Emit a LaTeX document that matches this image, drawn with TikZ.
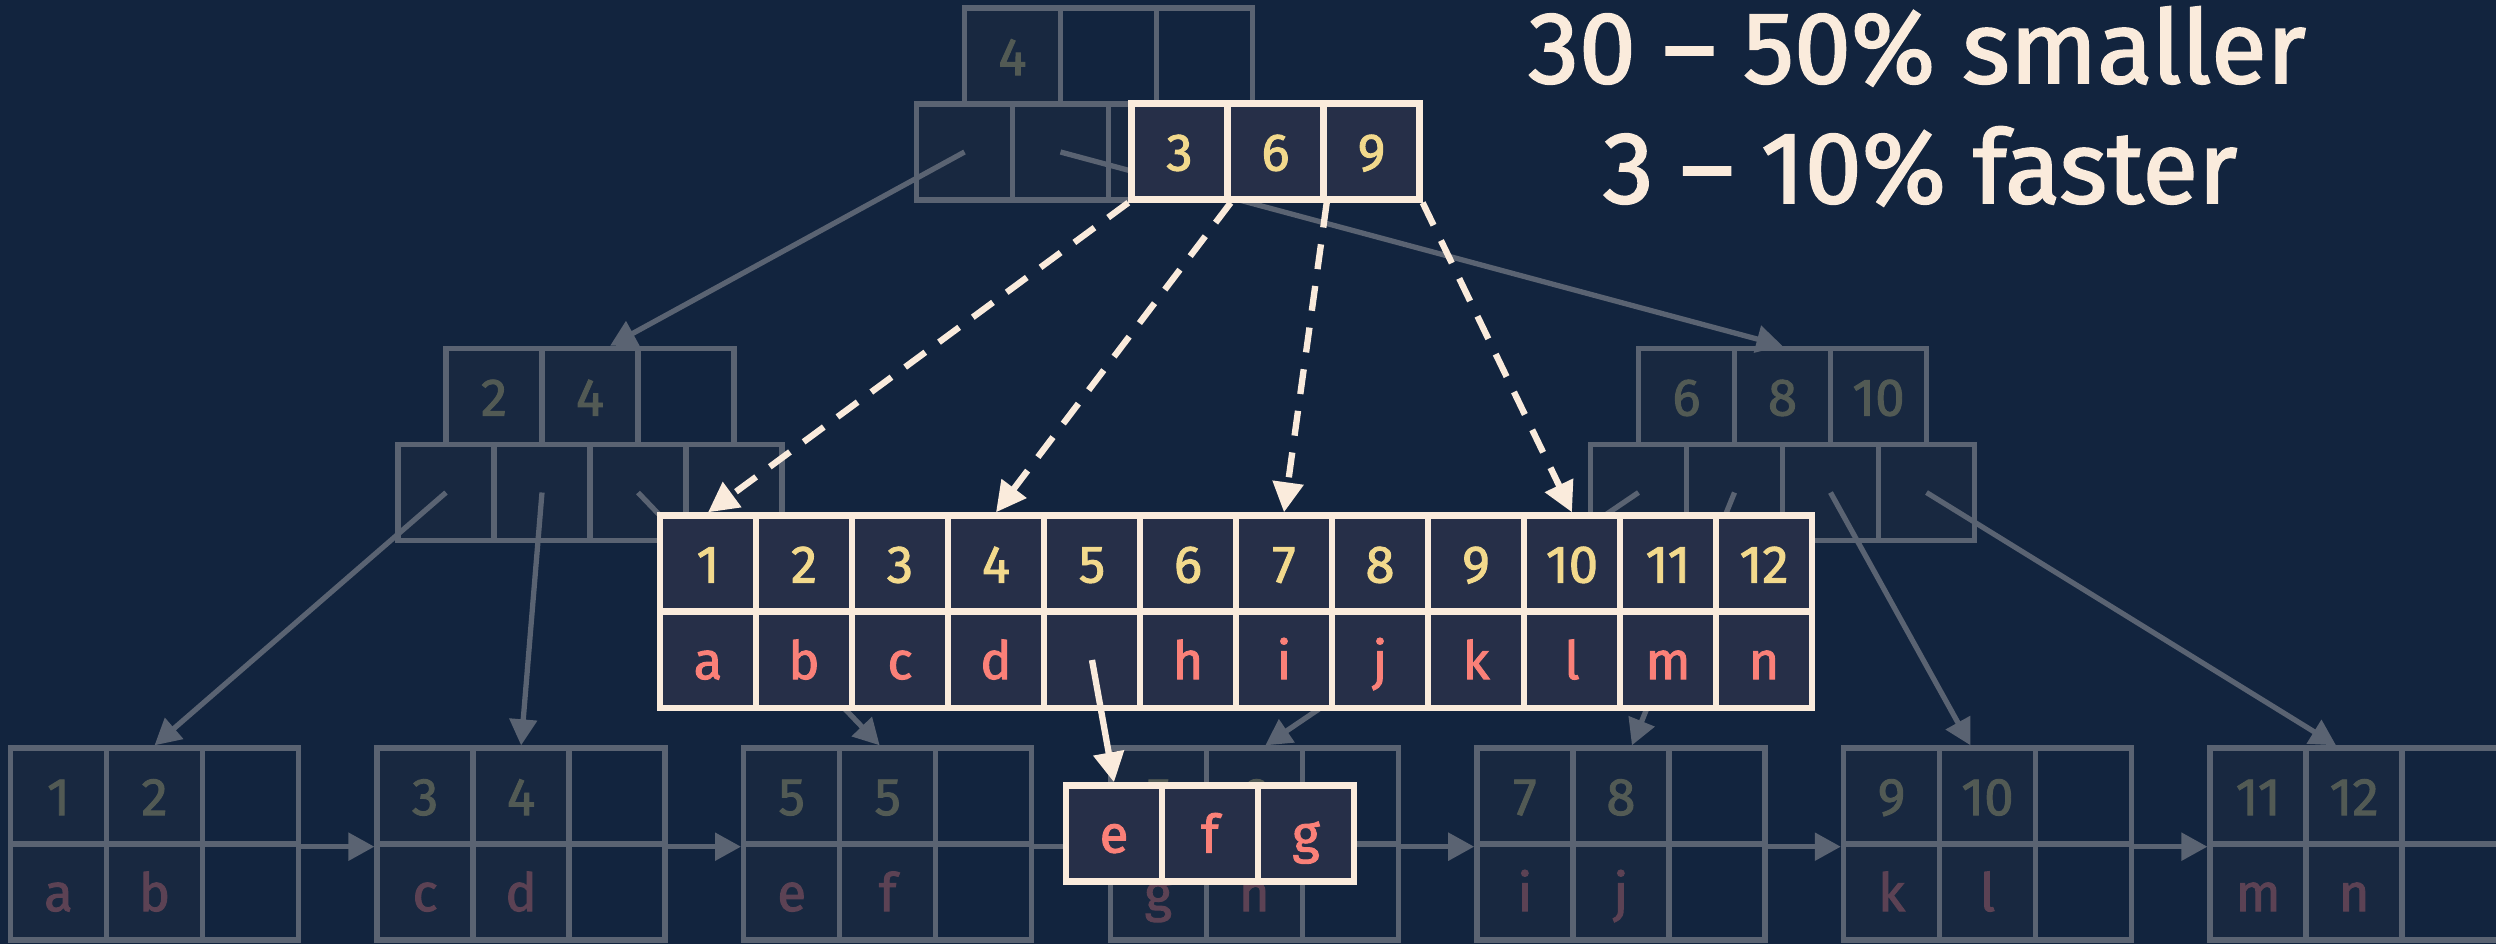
\documentclass[tikz,border=0pt]{standalone}
\usepackage{fontspec}
\setmainfont{Fira Sans}[FakeBold=1.8]
\usetikzlibrary{arrows.meta}
\definecolor{bg}{RGB}{18,36,62}
\definecolor{ffill}{RGB}{24,40,64}
\definecolor{fline}{RGB}{90,99,114}
\definecolor{fdig}{RGB}{82,90,84}
\definecolor{flet}{RGB}{92,66,84}
\definecolor{cream}{RGB}{250,235,220}
\definecolor{hfill}{RGB}{38,47,72}
\definecolor{hyel}{RGB}{242,217,140}
\definecolor{hpink}{RGB}{250,128,120}
\begin{document}
\begin{tikzpicture}[x=0.01cm,y=-0.01cm,
  cell/.style={draw=fline,fill=bg,line width=1.5pt,minimum width=0.96cm,minimum height=0.96cm,
    inner sep=0pt,text height=0.38cm,text depth=0pt,font=\fontsize{15}{18}\selectfont},
  full/.style={cell,fill=ffill},
  hcell/.style={cell,draw=cream,fill=hfill,line width=1.8pt},
  farrow/.style={draw=fline,line width=1.5pt,-{Triangle[length=0.26cm,width=0.27cm]}},
  harrow/.style={draw=cream,line width=1.8pt,-{Triangle[length=0.3cm,width=0.3cm]}},
  hdash/.style={harrow,dash pattern=on 0.25cm off 0.17cm}]
  \useasboundingbox[fill=bg] (0,0) rectangle (2496,944);

  % faded tree: root
  \foreach \i in {1,...,4} \node[full] (rb\i) at (868.5+96*\i,152) {};
  \node[full,text=fdig] (rt1) at (1012.5,56) {4};
  \node[cell] (rt2) at (1108.5,56) {};
  \node[cell] (rt3) at (1204.5,56) {};

  % faded tree: second level
  \foreach \i in {1,...,4} \node[full] (lb\i) at (350+96*\i,492.5) {};
  \node[full,text=fdig] (lt1) at (494,396.5) {2};
  \node[full,text=fdig] (lt2) at (590,396.5) {4};
  \node[cell] (lt3) at (686,396.5) {};
  \foreach \i in {1,...,4} \node[full] (Rb\i) at (1542.5+96*\i,492.5) {};
  \foreach \v [count=\i] in {6,8,10} \node[full,text=fdig] (Rt\i) at (1590.5+96*\i,396.5) {\v};

  % faded tree: leaves
  \foreach \k/\a/\b/\c/\d in {1/1/2/a/b,2/3/4/c/d,3/5/5/e/f,4/5/6/g/h,5/7/8/i/j,6/9/10/k/l,7/11/12/m/n}{
    \pgfmathsetmacro\lx{10.5+366.6*(\k-1)}
    \node[full,text=fdig] (lf\k-t1) at (\lx+48,796) {\a};
    \node[full,text=fdig] (lf\k-t2) at (\lx+144,796) {\b};
    \node[cell] (lf\k-t3) at (\lx+240,796) {};
    \node[full,text=flet] (lf\k-b1) at (\lx+48,892) {\c};
    \node[full,text=flet] (lf\k-b2) at (\lx+144,892) {\d};
    \node[cell] (lf\k-b3) at (\lx+240,892) {};
  }
  \foreach \k [evaluate=\k as \n using int(\k+1)] in {1,...,6}
    \draw[farrow] (lf\k-t3.south east) -- (lf\n-t1.south west);

  \draw[farrow] (rb1.center) -- ([xshift=0.2cm]lt2.north);
  \draw[farrow] (rb2.center) -- (Rt2.north);
  \draw[farrow] (lb1.center) -- (lf1-t2.north);
  \draw[farrow] (lb2.center) -- (lf2-t2.north);
  \draw[farrow] (lb3.center) -- ([xshift=-0.08cm]lf3-t2.north);
  \draw[farrow] (Rb1.center) -- ([xshift=0.11cm]lf4-t2.north);
  \draw[farrow] (Rb2.center) -- ([xshift=0.11cm]lf5-t2.north);
  \draw[farrow] (Rb3.center) -- ([xshift=-0.17cm]lf6-t2.north);
  \draw[farrow] (Rb4.center) -- ([xshift=-0.18cm]lf7-t2.north);

  % new layout
  \foreach \v [count=\i] in {1,...,12} \node[hcell,text=hyel] (n\i) at (612+96*\i,563.5) {\v};
  \foreach \v [count=\i] in {a,b,c,d,,h,i,j,k,l,m,n} \node[hcell,text=hpink] (m\i) at (612+96*\i,660) {\v};
  \foreach \v [count=\i] in {3,6,9} \node[hcell,text=hyel] (h\i) at (1083.5+96*\i,151.5) {\v};
  \foreach \v [count=\i] in {e,f,g} \node[hcell,text=hpink] (g\i) at (1018+96*\i,833.5) {\v};

  \draw[hdash] (h1.south west) -- (n1.north);
  \draw[hdash] (h1.south east) -- (n4.north);
  \draw[hdash] (h2.south east) -- (n7.north);
  \draw[hdash] (h3.south east) -- (n10.north);
  \draw[harrow] (m5.center) -- (g1.north);

  \node[anchor=base,text=cream,font=\fontsize{29}{35}\selectfont] (t1) at (1917,83) {30 – 50\% smaller};
  \node[anchor=base,text=cream,font=\fontsize{29}{35}\selectfont] (t2) at (1920,203) {3 – 10\% faster};
\end{tikzpicture}
\end{document}
